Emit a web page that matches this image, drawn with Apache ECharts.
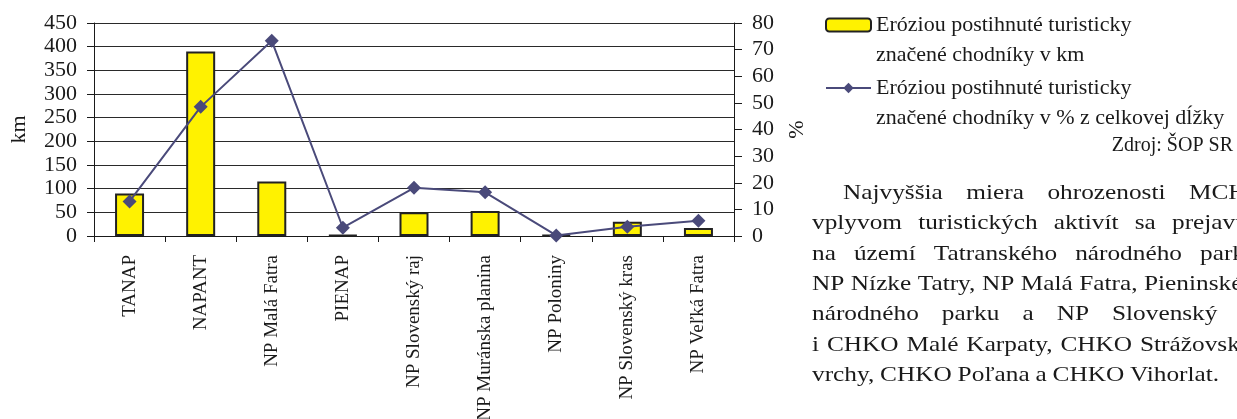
<!DOCTYPE html>
<html>
<head>
<meta charset="utf-8">
<script src="https://cdn.jsdelivr.net/npm/echarts@6/dist/echarts.min.js"></script>
<style>
  html, body { margin: 0; padding: 0; background: #fff; }
  #chart { width: 1237px; height: 419px; }
</style>
</head>
<body>
<div id="chart"></div>
<script>
// kategórie (národné parky)
const categories = ['TANAP', 'NAPANT', 'NP Malá Fatra', 'PIENAP', 'NP Slovenský raj',
    'NP Muránska planina', 'NP Poloniny', 'NP Slovenský kras', 'NP Veľká Fatra'];
// erodované chodníky v km
const kmValues = [90, 390, 115, 2, 50, 53, 2, 30, 17];
// erodované chodníky v % z celkovej dĺžky
const pctValues = [13, 48.5, 73.3, 3.1, 18.1, 16.4, 0.2, 3.5, 5.7];

const kmName = 'Eróziou postihnuté turisticky\nznačené chodníky v km';
const pctName = 'Eróziou postihnuté turisticky\nznačené chodníky v % z celkovej dĺžky';
const sourceText = 'Zdroj: ŠOP SR';
const paraLines = [
    'Najvyššia miera ohrozenosti MCHÚ',
    'vplyvom turistických aktivít sa prejavuje',
    'na území Tatranského národného parku,',
    'NP Nízke Tatry, NP Malá Fatra, Pieninského',
    'národného parku a NP Slovenský raj',
    'i CHKO Malé Karpaty, CHKO Strážovské',
    'vrchy, CHKO Poľana a CHKO Vihorlat.'
];
// kde začína "kotevné" slovo v riadku (zarovnanie do bloku)
const paraAnchors = [[3, 1189], [4, 1172], [4, 1200], [6, 1144], [4, 1112], [5, 1140], [5, 1130]];

const FONT = "'Liberation Serif', 'Times New Roman', serif";
const INK = '#1a1a1a';

// odsek v pravom stĺpci, slovo po slove
function paragraph(lines, size, sx) {
    const ctx = document.createElement('canvas').getContext('2d');
    ctx.font = size + 'px ' + FONT;
    const els = [];
    lines.forEach((line, i) => {
        const words = line.split(' ');
        const startX = i === 0 ? 843 : 812;
        const widths = words.map(w => ctx.measureText(w).width * sx);
        const [ai, ax] = paraAnchors[i];
        let before = 0;
        for (let k = 0; k < ai; k++) before += widths[k];
        const gap = (ax - startX - before) / ai;
        let x = startX;
        words.forEach((w, j) => {
            els.push({
                type: 'text', x: x, y: 193 + i * 30.4, scaleX: sx,
                style: { text: w, font: size + 'px ' + FONT, fill: INK, verticalAlign: 'middle' }
            });
            x += widths[j] + gap;
        });
    });
    return els;
}

const chart = echarts.init(document.getElementById('chart'));

const option = {
    animation: false,
    grid: { left: 94, right: 503, top: 23, bottom: 183, outerBoundsMode: 'none' },
    legend: {
        orient: 'vertical',
        left: 825,
        top: -20,
        itemWidth: 45,
        itemHeight: 13,
        itemGap: -27,
        padding: 0,
        formatter: name => '\n' + name,
        textStyle: { fontFamily: FONT, fontSize: 22, color: INK, lineHeight: 30 },
        data: [kmName, pctName]
    },
    xAxis: {
        type: 'category',
        data: categories,
        axisLine: { lineStyle: { color: INK, width: 1 } },
        axisTick: { show: true, length: 6, lineStyle: { color: INK } },
        axisLabel: { rotate: 90, margin: 19, fontFamily: FONT, fontSize: 19, color: INK, interval: 0 }
    },
    yAxis: [
        {
            type: 'value', min: 0, max: 450, interval: 50,
            name: 'km', nameLocation: 'middle', nameGap: 64, nameRotate: 90,
            nameTextStyle: { fontFamily: FONT, fontSize: 22, color: INK },
            axisLine: { show: true, lineStyle: { color: INK } },
            axisTick: { show: true, length: 7, lineStyle: { color: INK } },
            axisLabel: { margin: 17, fontFamily: FONT, fontSize: 22, color: INK },
            splitLine: { show: true, lineStyle: { color: '#2a2a2a', width: 1 } }
        },
        {
            type: 'value', min: 0, max: 80, interval: 10, position: 'right',
            name: '%', nameLocation: 'middle', nameGap: 52, nameRotate: 90,
            nameTextStyle: { fontFamily: FONT, fontSize: 22, color: INK },
            axisLine: { show: true, lineStyle: { color: INK } },
            axisTick: { show: true, length: 8, lineStyle: { color: INK } },
            axisLabel: { margin: 18, fontFamily: FONT, fontSize: 22, color: INK },
            splitLine: { show: false }
        }
    ],
    series: [
        {
            name: kmName,
            type: 'bar',
            data: kmValues,
            barWidth: 29,
            itemStyle: { color: '#fff200', borderColor: '#222', borderWidth: 2 }
        },
        {
            name: pctName,
            type: 'line',
            yAxisIndex: 1,
            data: pctValues,
            symbol: 'diamond',
            symbolSize: 14,
            itemStyle: { color: '#4a4a7a' },
            lineStyle: { color: '#4a4a7a', width: 2 },
            z: 5
        }
    ],
    graphic: [
        {
            type: 'text', right: 4, top: 136,
            style: { text: sourceText, font: '20px ' + FONT, fill: INK }
        }
    ].concat(paragraph(paraLines, 22, 1.15))
};

chart.setOption(option);
</script>
</body>
</html>
